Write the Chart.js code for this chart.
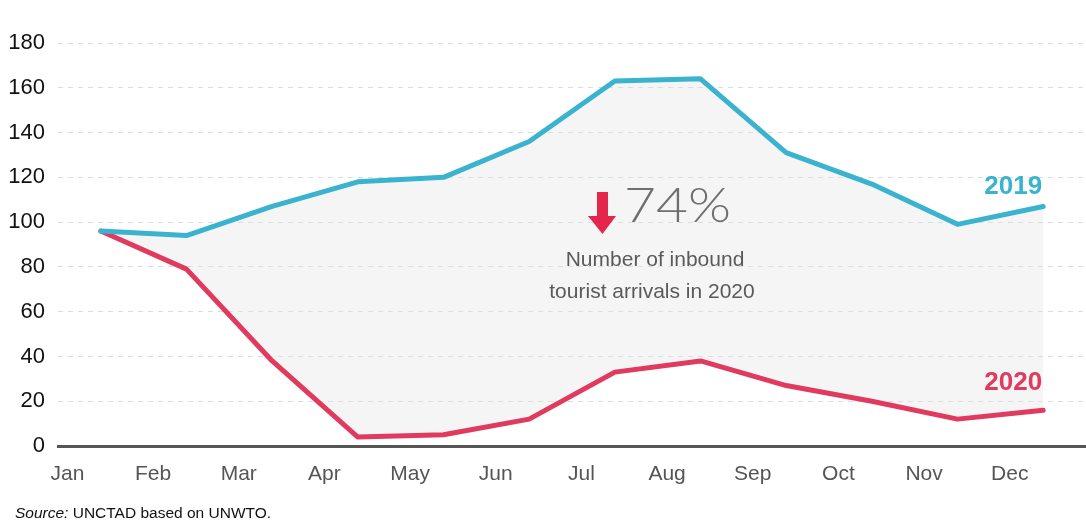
<!DOCTYPE html>
<html><head><meta charset="utf-8">
<script src="https://cdn.jsdelivr.net/npm/chart.js@4.4.1/dist/chart.umd.min.js"></script>
<style>html,body{margin:0;padding:0;background:#fff;} #wrap{position:relative;width:1086px;height:524px;}</style>
</head><body><div id="wrap"><canvas id="c"></canvas></div>
<script>
const months = ['Jan','Feb','Mar','Apr','May','Jun','Jul','Aug','Sep','Oct','Nov','Dec'];
const arrivals2019 = [96, 94, 107, 118, 120, 136, 163, 164, 131, 117, 99, 107];
const arrivals2020 = [96, 79, 38, 4, 5, 12, 33, 38, 27, 20, 12, 16];
const yTickValues = [0, 20, 40, 60, 80, 100, 120, 140, 160, 180];
const seriesNames = ['2019', '2020'];
const annotationBig = '74%';
const annotationLines = ['Number of inbound', 'tourist arrivals in 2020'];
const sourceLabel = 'Source:';
const sourceText = ' UNCTAD based on UNWTO.';

const FONT = '"Liberation Sans Narrow", "Arial Narrow", "Liberation Sans", Arial, sans-serif';
const BLUE = '#3ab3cf';
const RED = '#e03a5f';

const annot = {
  id: 'annot',
  afterDatasetsDraw(chart) {
    const ctx = chart.ctx, xs = chart.scales.x, ys = chart.scales.y;
    ctx.save();
    // series labels
    ctx.font = 'bold 26px "Liberation Sans", sans-serif';
    ctx.textAlign = 'right';
    ctx.textBaseline = 'alphabetic';
    const xr = xs.getPixelForValue(11) - 1;
    ctx.fillStyle = BLUE;
    ctx.fillText(seriesNames[0], xr, ys.getPixelForValue(arrivals2019[11]) - 12);
    ctx.fillStyle = RED;
    ctx.fillText(seriesNames[1], xr, ys.getPixelForValue(arrivals2020[11]) - 20);
    // arrow
    ctx.fillStyle = '#e3264a';
    ctx.beginPath();
    ctx.moveTo(597, 192); ctx.lineTo(608, 192); ctx.lineTo(608, 216);
    ctx.lineTo(616, 216); ctx.lineTo(602.5, 234); ctx.lineTo(588, 216);
    ctx.lineTo(597, 216); ctx.closePath(); ctx.fill();
    // big percentage
    ctx.font = '300 48px Lato, Roboto, sans-serif';
    ctx.fillStyle = '#6f6f6f';
    ctx.textAlign = 'left';
    const w = ctx.measureText(annotationBig).width;
    ctx.save();
    ctx.translate(624, 222);
    ctx.scale(107 / w, 1);
    ctx.fillText(annotationBig, 0, 0);
    ctx.restore();
    // subtitle
    ctx.font = '21px ' + FONT;
    ctx.fillStyle = '#5a5a5a';
    ctx.textAlign = 'center';
    ctx.fillText(annotationLines[0], 655, 266);
    ctx.fillText(annotationLines[1], 652, 298);
    // source
    ctx.textAlign = 'left';
    ctx.fillStyle = '#111';
    ctx.font = 'italic 15.5px ' + FONT;
    ctx.fillText(sourceLabel, 15, 518);
    const sw = ctx.measureText(sourceLabel).width;
    ctx.font = '15.5px ' + FONT;
    ctx.fillText(sourceText, 15 + sw, 518);
    ctx.restore();
  }
};

new Chart(document.getElementById('c'), {
  type: 'line',
  data: {
    datasets: [
      { label: seriesNames[0], data: arrivals2019.map((v, i) => ({x: i, y: v})),
        borderColor: BLUE, borderWidth: 5, pointRadius: 0, tension: 0,
        borderJoinStyle: 'round', borderCapStyle: 'round',
        fill: '+1', backgroundColor: 'rgba(225,225,230,0.35)' },
      { label: seriesNames[1], data: arrivals2020.map((v, i) => ({x: i, y: v})),
        borderColor: RED, borderWidth: 5, pointRadius: 0, tension: 0,
        borderJoinStyle: 'round', borderCapStyle: 'round', fill: false }
    ]
  },
  options: {
    responsive: true, maintainAspectRatio: false, animation: false,
    layout: { padding: { left: 0, right: 0, top: 43, bottom: 28 } },
    plugins: { legend: { display: false }, tooltip: { enabled: false },
      filler: { drawTime: 'beforeDatasetsDraw' } },
    scales: {
      x: {
        type: 'linear', min: -0.5, max: 11.5,
        afterBuildTicks: s => { s.ticks = months.map((m, i) => ({ value: i - 0.39 })); },
        afterFit: s => { s.height = 50; },
        grid: { display: false, drawTicks: false },
        border: { display: true, color: '#555', width: 3 },
        ticks: { autoSkip: false, maxRotation: 0, padding: 16, color: '#555',
          font: { family: FONT, size: 21 },
          callback: (v, idx) => months[idx] }
      },
      y: {
        min: 0, max: 180,
        afterBuildTicks: s => { s.ticks = yTickValues.map(v => ({ value: v })); },
        afterFit: s => { s.width = 58; },
        grid: { color: '#dcdcdc', lineWidth: 1, drawTicks: false },
        border: { display: false, dash: [5, 5] },
        ticks: { padding: 13, color: '#111', font: { family: FONT, size: 22 } }
      }
    }
  },
  plugins: [annot]
});
</script>
</body></html>
